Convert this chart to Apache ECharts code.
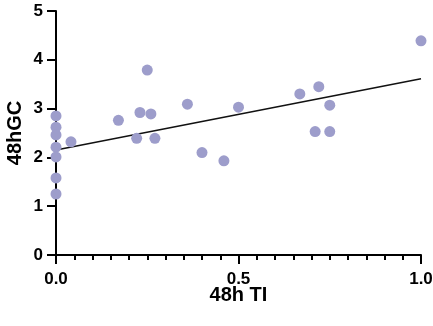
<!DOCTYPE html>
<html>
<head>
<meta charset="utf-8">
<script src="https://cdn.jsdelivr.net/npm/echarts@6/dist/echarts.min.js"></script>
<style>html,body{margin:0;padding:0;background:#fff}#c{width:433px;height:326px}</style>
</head>
<body>
<div id="c"></div>
<script>
// Data
var tiValues = [0, 0, 0, 0, 0, 0, 0, 0.041, 0.171, 0.25, 0.23, 0.26, 0.36, 0.221, 0.271, 0.40, 0.46, 0.50, 0.668, 0.72, 0.75, 0.71, 0.75, 1.0];
var gcValues = [2.85, 2.62, 2.46, 2.21, 2.01, 1.58, 1.25, 2.32, 2.76, 3.79, 2.92, 2.89, 3.09, 2.39, 2.39, 2.10, 1.93, 3.03, 3.30, 3.45, 3.07, 2.53, 2.53, 4.39];
var fitX = [0, 1.0];
var fitY = [2.15, 3.61];
var xTickLabels = ['0.0', '0.5', '1.0'];
var yTickLabels = ['0', '1', '2', '3', '4', '5'];

var points = tiValues.map(function (x, i) { return [x, gcValues[i]]; });
var fitLine = fitX.map(function (x, i) { return [x, fitY[i]]; });

var font = 'Liberation Sans, Arial, sans-serif';
var chart = echarts.init(document.getElementById('c'), null, {renderer: 'canvas'});
chart.setOption({
  animation: false,
  grid: {left: 56, right: 12, top: 11, bottom: 71, containLabel: false, outerBoundsMode: 'none'},
  xAxis: {
    type: 'value', min: 0, max: 1, interval: 0.5,
    name: '48h TI', nameLocation: 'middle', nameGap: 30, nameMoveOverlap: false,
    nameTextStyle: {fontFamily: font, fontWeight: 'bold', fontSize: 20, color: '#000'},
    axisLine: {lineStyle: {color: '#000', width: 2}},
    axisTick: {show: true, length: 9, lineStyle: {color: '#000', width: 2}},
    minorTick: {show: true, splitNumber: 10, length: 5, lineStyle: {color: '#000', width: 2}},
    splitLine: {show: false},
    axisLabel: {fontFamily: font, fontWeight: 'bold', fontSize: 17, color: '#000', margin: 16,
      formatter: function (v) { return xTickLabels[Math.round(v / 0.5)]; }}
  },
  yAxis: {
    type: 'value', min: 0, max: 5, interval: 1,
    name: '48hGC', nameLocation: 'middle', nameGap: 31, nameRotate: 90, nameMoveOverlap: false,
    nameTextStyle: {fontFamily: font, fontWeight: 'bold', fontSize: 20, color: '#000'},
    axisLine: {show: true, lineStyle: {color: '#000', width: 2}},
    axisTick: {show: true, length: 9, lineStyle: {color: '#000', width: 2}},
    splitLine: {show: false},
    axisLabel: {fontFamily: font, fontWeight: 'bold', fontSize: 17, color: '#000', margin: 13,
      formatter: function (v) { return yTickLabels[Math.round(v)]; }}
  },
  series: [
    {
      type: 'line', data: fitLine, symbol: 'none', z: 3,
      lineStyle: {color: '#111', width: 1.5}
    },
    {
      type: 'scatter', data: points, symbol: 'circle', symbolSize: 11, z: 4,
      itemStyle: {color: '#9d9dcb', opacity: 1}
    }
  ]
});
</script>
</body>
</html>
